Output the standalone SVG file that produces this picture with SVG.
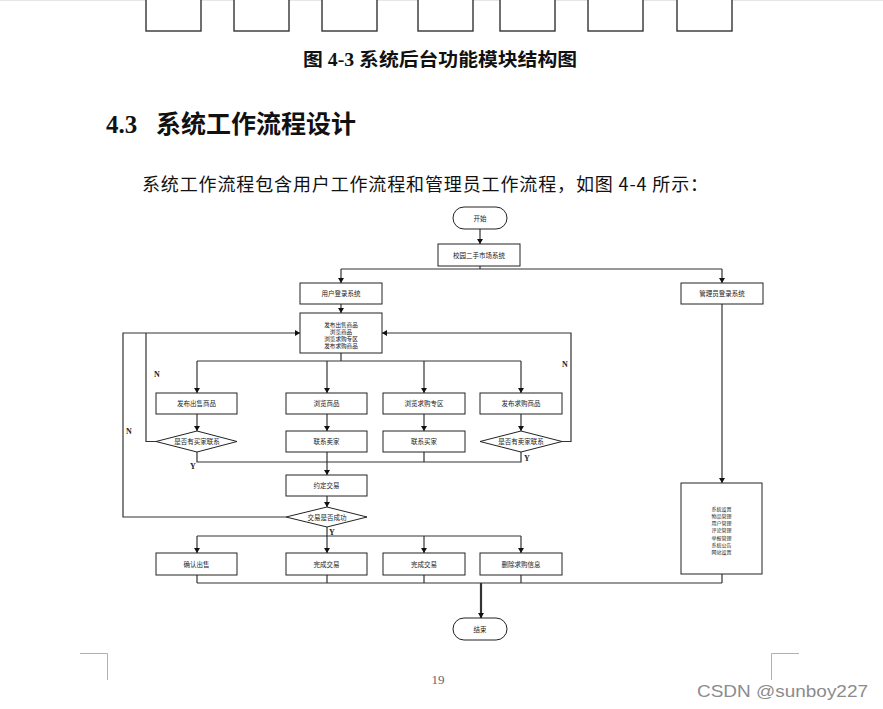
<svg xmlns="http://www.w3.org/2000/svg" width="883" height="709" viewBox="0 0 883 709">
<style>
.box{fill:#fff;stroke:#222;stroke-width:1}
.top{fill:#fff;stroke:#333;stroke-width:1.4}
.lbl{font-family:"Noto Sans CJK SC",sans-serif;font-size:6.5px;fill:#222;text-anchor:middle}
.sm{font-size:5.6px}
.xs{font-size:5px}
.yn{font-family:"Liberation Serif",serif;font-size:8px;font-weight:bold;fill:#222}
.ln{fill:none;stroke:#333;stroke-width:1.2}
.mk{fill:none;stroke:#333;stroke-width:1.2;marker-end:url(#ah)}
.corner{fill:none;stroke:#b0b0b0;stroke-width:1}
</style>
<defs>
<marker id="ah" viewBox="0 0 10 10" refX="10" refY="5" markerWidth="5" markerHeight="6" markerUnits="userSpaceOnUse" orient="auto" preserveAspectRatio="none">
<path d="M0,0 L10,5 L0,10 Z" fill="#111"/>
</marker>
</defs>
<rect width="883" height="709" fill="#fff"/>
<line x1="0" y1="0.5" x2="883" y2="0.5" stroke="#e6e6e6"/>
<g id="prev-figure">
<rect class="top" x="146" y="-3" width="55" height="34"/>
<rect class="top" x="234" y="-3" width="55" height="34"/>
<rect class="top" x="322" y="-3" width="55" height="34"/>
<rect class="top" x="418" y="-3" width="55" height="34"/>
<rect class="top" x="500" y="-3" width="55" height="34"/>
<rect class="top" x="588" y="-3" width="55" height="34"/>
<rect class="top" x="677" y="-3" width="55" height="34"/>
</g>
<text x="303" y="66" font-family="'Liberation Serif','Noto Sans CJK SC',serif" font-size="18" font-weight="bold" fill="#111" textLength="274" lengthAdjust="spacingAndGlyphs">图 4-3 系统后台功能模块结构图</text>
<text x="106" y="133" font-family="'Liberation Serif',serif" font-size="25" font-weight="bold" fill="#111">4.3</text>
<text x="156" y="133" font-family="'Noto Sans CJK SC',sans-serif" font-size="25" font-weight="bold" fill="#111">系统工作流程设计</text>
<text x="142" y="191" font-family="'Noto Sans CJK SC',sans-serif" font-size="18" fill="#111" textLength="566" lengthAdjust="spacing">系统工作流程包含用户工作流程和管理员工作流程，如图 4-4 所示：</text>

<g id="connectors">
<path class="mk" d="M480,229 V244"/>
<path class="ln" d="M480,266 V269 M341,269 H722"/>
<path class="mk" d="M341,269 V283"/>
<path class="mk" d="M722,269 V283"/>
<path class="mk" d="M341,304 V313"/>
<path class="ln" d="M341,353 V361 M197,361 H521"/>
<path class="mk" d="M197,361 V393"/>
<path class="mk" d="M327,361 V393"/>
<path class="mk" d="M424,361 V393"/>
<path class="mk" d="M521,361 V393"/>
<path class="mk" d="M197,414 V431"/>
<path class="mk" d="M327,414 V431"/>
<path class="mk" d="M424,414 V431"/>
<path class="mk" d="M521,414 V431"/>
<path class="ln" d="M156,441.5 H146 V333"/>
<path class="mk" d="M562,441.5 H571 V333 H382"/>
<path class="ln" d="M197,452 V462 H521 V452 M424,452 V462"/>
<path class="mk" d="M327,452 V475"/>
<path class="mk" d="M327,496 V507"/>
<path class="mk" d="M286,517 H123 V333 H300"/>
<path class="ln" d="M327,527 V536 M197,536 H521"/>
<path class="mk" d="M197,536 V553"/>
<path class="mk" d="M327,536 V553"/>
<path class="mk" d="M424,536 V553"/>
<path class="mk" d="M521,536 V553"/>
<path class="ln" d="M197,575 V583 M327,575 V583 M424,575 V583 M521,575 V583 M722,574 V583 M197,583 H722"/>
<path class="mk" d="M481,583 V618" style="stroke-width:2.2"/>
<path class="mk" d="M722,304 V483"/>
<text class="yn" x="154" y="377">N</text>
<text class="yn" x="126" y="434">N</text>
<text class="yn" x="190" y="469">Y</text>
<text class="yn" x="562" y="367">N</text>
<text class="yn" x="524" y="461">Y</text>
<text class="yn" x="329" y="535">Y</text>
</g>

<g id="start"><rect class="box" x="453" y="207" width="54" height="22" rx="11"/><text class="lbl" x="480" y="220.5">开始</text></g>
<g id="system"><rect class="box" x="438" y="244" width="82" height="22"/><text class="lbl" x="479" y="257.5">校园二手市场系统</text></g>
<g id="user-login"><rect class="box" x="300" y="283" width="82" height="21"/><text class="lbl" x="341" y="296">用户登录系统</text></g>
<g id="admin-login"><rect class="box" x="681" y="283" width="82" height="21"/><text class="lbl" x="722" y="296">管理员登录系统</text></g>
<g id="user-menu"><rect class="box" x="300" y="313" width="82" height="40"/>
<text class="lbl sm" x="341" y="327">发布出售商品</text><text class="lbl sm" x="341" y="334">浏览商品</text><text class="lbl sm" x="341" y="341">浏览求购专区</text><text class="lbl sm" x="341" y="348">发布求购商品</text></g>
<g id="sell"><rect class="box" x="156" y="393" width="81" height="21"/><text class="lbl" x="196.5" y="406">发布出售商品</text></g>
<g id="browse"><rect class="box" x="286" y="393" width="81" height="21"/><text class="lbl" x="326.5" y="406">浏览商品</text></g>
<g id="browse-want"><rect class="box" x="383" y="393" width="82" height="21"/><text class="lbl" x="424" y="406">浏览求购专区</text></g>
<g id="post-want"><rect class="box" x="480" y="393" width="82" height="21"/><text class="lbl" x="521" y="406">发布求购商品</text></g>
<g id="buyer-contact"><polygon class="box" points="156,441.5 197,431 237,441.5 197,452"/><text class="lbl" x="197" y="444">是否有买家联系</text></g>
<g id="contact-seller"><rect class="box" x="286" y="431" width="81" height="21"/><text class="lbl" x="326.5" y="444">联系卖家</text></g>
<g id="contact-buyer"><rect class="box" x="383" y="431" width="82" height="21"/><text class="lbl" x="424" y="444">联系买家</text></g>
<g id="seller-contact"><polygon class="box" points="480,441.5 521,431 562,441.5 521,452"/><text class="lbl" x="521" y="444">是否有卖家联系</text></g>
<g id="agree"><rect class="box" x="286" y="475" width="81" height="21"/><text class="lbl" x="326.5" y="488">约定交易</text></g>
<g id="success"><polygon class="box" points="286,517 327,507 367,517 327,527"/><text class="lbl" x="327" y="519.5">交易是否成功</text></g>
<g id="confirm"><rect class="box" x="156" y="553" width="81" height="22"/><text class="lbl" x="196.5" y="566.5">确认出售</text></g>
<g id="done1"><rect class="box" x="286" y="553" width="81" height="22"/><text class="lbl" x="326.5" y="566.5">完成交易</text></g>
<g id="done2"><rect class="box" x="383" y="553" width="82" height="22"/><text class="lbl" x="424" y="566.5">完成交易</text></g>
<g id="delete-want"><rect class="box" x="480" y="553" width="82" height="22"/><text class="lbl" x="521" y="566.5">删除求购信息</text></g>
<g id="admin-menu"><rect class="box" x="681" y="483" width="81" height="91"/>
<text class="lbl xs" x="721.5" y="510.5">系统设置</text><text class="lbl xs" x="721.5" y="517.8">物品管理</text><text class="lbl xs" x="721.5" y="525.1">用户管理</text><text class="lbl xs" x="721.5" y="532.4">评论管理</text><text class="lbl xs" x="721.5" y="539.7">举报管理</text><text class="lbl xs" x="721.5" y="547">系统公告</text><text class="lbl xs" x="721.5" y="554.3">网站设置</text></g>
<g id="end"><rect class="box" x="453" y="618" width="54" height="22" rx="11"/><text class="lbl" x="480" y="631.5">结束</text></g>

<path class="corner" d="M80,653.5 H107.5 V680"/>
<path class="corner" d="M771.5,680 V653.5 H799"/>
<text x="438" y="684" text-anchor="middle" font-family="'Liberation Serif',serif" font-size="13" fill="#666">19</text>
<text x="697" y="697" font-family="'Liberation Sans',sans-serif" font-size="17" fill="#8c8c8c" textLength="171" lengthAdjust="spacingAndGlyphs">CSDN @sunboy227</text>
</svg>
